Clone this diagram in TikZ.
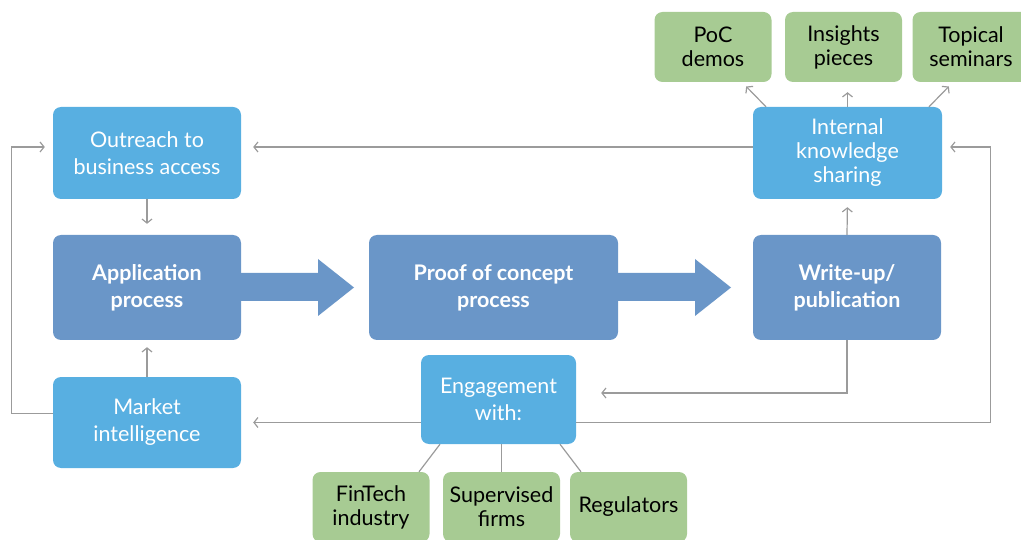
\documentclass[tikz,border=0pt]{standalone}
\usepackage{fontspec}
\setmainfont{Lato}
\usetikzlibrary{arrows.meta}
\definecolor{lblue}{RGB}{88,175,225}
\definecolor{dblue}{RGB}{106,150,200}
\definecolor{lgreen}{RGB}{167,203,147}
\definecolor{lgray}{RGB}{155,155,155}
\begin{document}
\begin{tikzpicture}[x=1pt,y=-1pt,
  box/.style={rounded corners=8pt, inner sep=0pt, align=center},
  lb/.style={box, fill=lblue, text=white, font=\fontsize{21.5}{27}\selectfont},
  db/.style={box, fill=dblue, text=white, font=\bfseries\fontsize{21.5}{27}\selectfont},
  gb/.style={box, fill=lgreen, text=black, font=\fontsize{21.5}{24}\selectfont, minimum width=117pt, minimum height=70pt},
  con/.style={draw=lgray, line width=1.2pt, -{Straight Barb[length=4pt,width=10pt]}},
  plain/.style={draw=lgray, line width=1.2pt},
  bigarrow/.style={fill=dblue}]
\useasboundingbox (0,0) rectangle (1021,540);
\clip (0,0) rectangle (1021,540);
% nodes
\node[lb, minimum width=188pt, minimum height=92pt] (out) at (147,153) {Outreach to\\business access};
\node[db, minimum width=188pt, minimum height=105pt] (app) at (147,287.5) {Application\\process};
\node[lb, minimum width=188pt, minimum height=91pt] (mkt) at (147,422.5) {Market\\intelligence};
\node[db, minimum width=249pt, minimum height=105pt] (poc) at (493.5,287.5) {Proof of concept\\process};
\node[db, minimum width=188pt, minimum height=105pt] (wr) at (847,287.5) {Write-up/\\publication};
\node[lb, minimum width=189pt, minimum height=92pt, font=\fontsize{21.5}{24}\selectfont] (int) at (847.5,153) {Internal\\knowledge\\sharing};
\node[gb] (demo) at (713,47) {PoC\\demos};
\node[gb] (ins) at (843.5,47) {Insights\\pieces};
\node[gb] (top) at (971,47) {Topical\\seminars};
\node[lb, minimum width=155pt, minimum height=89pt] (eng) at (498.5,399.5) {Engagement\\with:};
\node[gb] (fin) at (371,507) {FinTech\\industry};
\node[gb] (sup) at (501.5,507) {Supervised\\firms};
\node[gb] (reg) at (628.5,507) {Regulators};
% big arrows
\fill[bigarrow] (app.east |- 0,273) -- (318,273) -- (318,259) -- (354,287.5) -- (318,316) -- (318,301) -- (app.east |- 0,301) -- cycle;
\fill[bigarrow] (poc.east |- 0,273) -- (695,273) -- (695,259) -- (731,287.5) -- (695,316) -- (695,301) -- (poc.east |- 0,301) -- cycle;
% connectors
\draw[con, shorten >=12pt] ([yshift=6pt]int.west) -- ([yshift=6pt]out.east);
\draw[con, shorten >=11pt] (out.south) -- (app.north);
\draw[con, shorten >=7pt] (mkt.north) -- (app.south);
\draw[con, shorten >=8pt] ([yshift=9pt]mkt.west) -- ++(-41,0) |- ([yshift=6pt]out.west);
\draw[con, shorten >=12pt] (eng.west |- mkt.east) -- (mkt.east);
\draw[con, shorten >=8pt] (eng.east |- mkt.east) -- ++(414,0) |- ([yshift=6pt]int.east);
\draw[con, shorten >=25pt] (wr.south) |- ([yshift=6.5pt]eng.east);
\draw[con, shorten >=8pt] (wr.north) -- (int.south);
\draw[con, shorten >=6pt] ([xshift=-81.5pt]int.north) -- ([xshift=29pt]demo.south);
\draw[con, shorten >=10pt] (int.north) -- (int.north |- ins.south);
\draw[con, shorten >=6pt] ([xshift=81.5pt]int.north) -- ([xshift=-18pt]top.south);
\draw[plain] ([xshift=-58.5pt]eng.south) -- ([xshift=48pt]fin.north);
\draw[plain] (sup.north |- eng.south) -- (sup.north);
\draw[plain] ([xshift=61.5pt]eng.south) -- ([xshift=-47.5pt]reg.north);
\end{tikzpicture}
\end{document}
